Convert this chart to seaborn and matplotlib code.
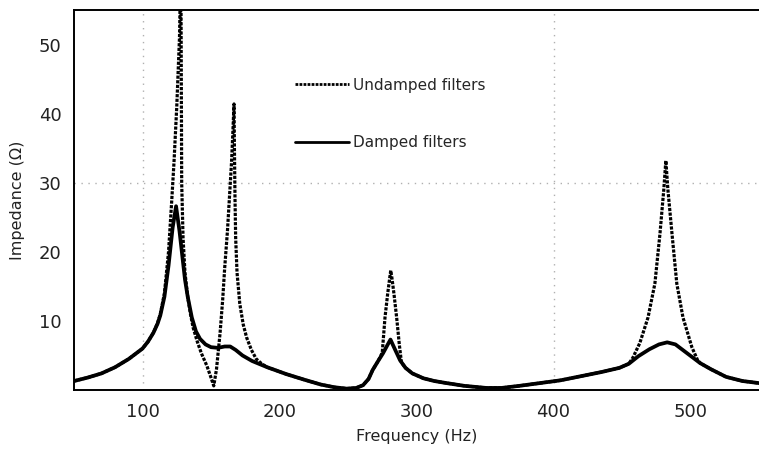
import pandas as pd
import matplotlib
matplotlib.use("Agg")
import matplotlib.pyplot as plt
import seaborn as sns

# --- Data ---
damped_freq = [50, 60, 70, 80, 90, 100, 104, 108, 111, 113, 116, 119, 122, 124.5, 127, 129,
               131, 133, 136, 139, 142, 146, 150, 155, 160, 164, 168, 173, 180, 191,
               205, 218, 230, 240, 249, 256, 261, 265, 268, 272, 275.5, 278.5, 281,
               284, 288, 292, 297, 305, 313, 322, 335, 351, 362, 375, 390, 405, 420,
               435, 448, 455, 462, 470, 477, 483, 489, 495, 501, 507, 515, 526, 538, 550]
damped_imp = [1.3, 1.8, 2.4, 3.3, 4.5, 6.0, 7.0, 8.3, 9.6, 10.8, 13.5, 18, 23.5, 26.6, 23, 19.5,
              16, 13.5, 10.5, 8.5, 7.4, 6.6, 6.2, 6.1, 6.3, 6.3, 5.8, 5.0, 4.2, 3.3,
              2.3, 1.5, 0.8, 0.4, 0.2, 0.3, 0.7, 1.6, 2.9, 4.2, 5.3, 6.4, 7.3,
              6.0, 4.3, 3.2, 2.4, 1.7, 1.3, 1.0, 0.6, 0.3, 0.3, 0.6, 1.0, 1.4, 2.0,
              2.6, 3.2, 3.8, 4.9, 5.9, 6.6, 6.9, 6.6, 5.7, 4.8, 3.9, 3.0, 1.9, 1.3, 1.0]

undamped_freq = [50, 60, 70, 80, 90, 100, 104, 108, 111, 113, 116, 119, 121.3, 123, 125, 127, 128,
                 128.6, 129.6, 131, 133, 135, 137, 140, 143, 147, 150, 152, 154, 156.6,
                 158.5, 160, 162, 163.5, 165, 166, 166.8, 167.1, 167.5, 168, 169, 171,
                 173.5, 176, 179.5, 183, 187, 191, 205, 218, 230, 240, 249, 256, 261,
                 265, 268, 272, 275, 277, 279, 280.5, 281.2, 282, 283.5, 285.5, 287.5,
                 289, 292, 297, 305, 313, 322, 335, 351, 362, 375, 390, 405, 420, 435,
                 448, 455, 458, 463, 469, 474, 477.7, 480.5, 482, 483.5, 486.5, 490,
                 494.5, 501, 505, 507, 515, 526, 538, 550]
undamped_imp = [1.3, 1.8, 2.4, 3.3, 4.5, 6.0, 7.0, 8.3, 9.7, 11.0, 14, 20, 27.3, 33, 41, 51, 62,
                30, 22, 17, 13.5, 11, 9, 7, 5.3, 3.5, 1.8, 0.6, 3, 8.2,
                13, 17.7, 23, 28, 33, 37.5, 41.4, 35, 28, 22, 17, 12.5,
                9.5, 7.6, 5.8, 4.5, 3.8, 3.3, 2.3, 1.5, 0.8, 0.4, 0.2, 0.3, 0.7,
                1.6, 2.9, 4.2, 5.4, 10.5, 14, 16.3, 17.3, 16.3, 14, 10.5, 6.5,
                4.0, 3.2, 2.4, 1.7, 1.3, 1.0, 0.6, 0.3, 0.3, 0.6, 1.0, 1.4, 2.0, 2.6,
                3.2, 3.8, 4.7, 6.8, 10.5, 15.4, 22.6, 29, 33.2, 29, 22.6, 15.4,
                10.5, 6.2, 4.4, 3.9, 3.0, 1.9, 1.3, 1.0]

x_ticks = [100, 200, 300, 400, 500]
y_ticks = [10, 20, 30, 40, 50]

damped_df = pd.DataFrame({"freq": damped_freq, "imp": damped_imp})
undamped_df = pd.DataFrame({"freq": undamped_freq, "imp": undamped_imp})

sns.set_theme(style="white")
plt.rcParams["font.family"] = ["DejaVu Sans"]

fig = plt.figure(figsize=(7.59, 4.5), dpi=100)
ax = fig.add_axes([0.0975, 0.1333, 0.9025, 0.8445])

# sparse dotted guide lines
for gx in [100, 400]:
    ax.axvline(gx, color="#b0b0b0", lw=1, ls=(0, (1, 4)), zorder=0)
ax.axhline(30, color="#b0b0b0", lw=1, ls=(0, (1, 4)), zorder=0)

sns.lineplot(data=undamped_df, x="freq", y="imp", ax=ax, color="black", lw=2.3,
             linestyle=(0, (1, 0.45)), label="Undamped filters", sort=False)
sns.lineplot(data=damped_df, x="freq", y="imp", ax=ax, color="black", lw=2.7,
             label="Damped filters", sort=False)

ax.set_xlim(50, 550)
ax.set_ylim(0, 55)
ax.set_xticks(x_ticks)
ax.set_yticks(y_ticks)
ax.tick_params(axis="both", length=0, labelsize=13, pad=9, colors="#222222")
ax.set_xlabel("Frequency (Hz)", fontsize=11.5, color="#222222", labelpad=6)
ax.set_ylabel("Impedance (Ω)", fontsize=11.5, color="#222222", labelpad=10)

for side in ["left", "bottom", "top"]:
    ax.spines[side].set_color("black")
    ax.spines[side].set_linewidth(1.4)
ax.spines["right"].set_visible(False)

leg = ax.legend(loc="upper left", bbox_to_anchor=(0.303, 0.858), frameon=False,
                handlelength=3.5, handletextpad=0.3, labelspacing=2.8, fontsize=11)
# legend samples are drawn a bit thinner than the curves
for line in leg.get_lines():
    line.set_linewidth(2.0)

fig.savefig("out.png", dpi=100)
